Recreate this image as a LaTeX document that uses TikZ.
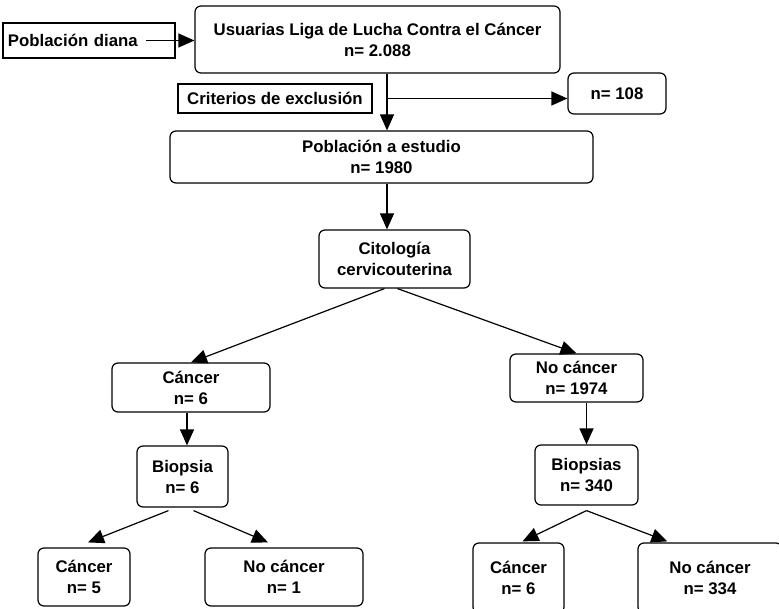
\documentclass[tikz,border=0pt]{standalone}
\usepackage{fontspec}
\setmainfont{Liberation Sans}
\usetikzlibrary{calc,arrows.meta}

\begin{document}
\begin{tikzpicture}[x=1pt,y=-1pt,
    box/.style={draw,line width=1.2pt,rounded corners=6pt,align=center,inner sep=0pt,
      font=\bfseries\fontsize{16.8}{21}\selectfont},
    flat/.style={box,rounded corners=0pt},
    link/.style={line width=1.2pt,-{Triangle[length=16pt,width=14pt]}}]
    \useasboundingbox (0,0) rectangle (779,609);
    \clip (0,0) rectangle (779,609);
    \coordinate (spine) at (387,0);
    \coordinate (dianaend) at (146,40.5);

    % top part
    \node[flat,text width=162pt,align=left,inner xsep=5pt,minimum height=35pt] (diana) at (89,40.5) {Población diana};
    \node[box,minimum width=365pt,minimum height=67pt] (usuarias) at (377.5,39.5) {Usuarias Liga de Lucha Contra el Cáncer\\n= 2.088};
    \node[flat,minimum width=194pt,minimum height=29pt] (criterios) at (275,98.5) {Criterios de exclusión};
    \node[box,minimum width=98pt,minimum height=41pt] (excl) at (617,93.5) {n= 108};
    \node[box,minimum width=423pt,minimum height=52pt] (poblacion) at (381.5,157) {Población a estudio\\n= 1980};
    \node[box,minimum width=151pt,minimum height=58pt] (citologia) at (394.5,259) {Citología\\cervicouterina};

    % branches
    \node[box,minimum width=158pt,minimum height=49pt] (cancer) at (191,387.5) {Cáncer\\n= 6};
    \node[box,minimum width=133pt,minimum height=48pt] (nocancer) at (576.5,378) {No cáncer\\n= 1974};
    \node[box,minimum width=91pt,minimum height=61pt] (biopsia) at (182.5,476.5) {Biopsia\\n= 6};
    \node[box,minimum width=103pt,minimum height=60pt] (biopsias) at (586.5,475) {Biopsias\\n= 340};
    \node[box,minimum width=92pt,minimum height=58pt] (cancerA) at (84,577) {Cáncer\\n= 5};
    \node[box,minimum width=158pt,minimum height=58pt] (nocancerA) at (284,577) {No cáncer\\n= 1};
    \node[box,minimum width=91pt,minimum height=70pt] (cancerB) at (518.5,578) {Cáncer\\n= 6};
    \node[box,minimum width=144pt,minimum height=70pt] (nocancerB) at (710,578) {No cáncer\\n= 334};

    \draw[link] (dianaend) -- (dianaend -| usuarias.west);
    \draw[link] (usuarias.south -| spine) -- (poblacion.north -| spine);
    \draw[link] (criterios.east -| spine) -- (criterios.east -| excl.west);
    \draw[link] (poblacion.south -| spine) -- (citologia.north -| spine);
    \draw[link] ($(citologia.south)+(-10,0)$) -- (cancer.north);
    \draw[link] ($(citologia.south)+(3,0)$) -- (nocancer.north);
    \draw[link] ($(cancer.south)+(-4,0)$) -- ($(biopsia.north)+(4.5,0)$);
    \draw[link] (nocancer.south -| biopsias.north) -- (biopsias.north);
    \draw[link] ($(biopsia.south)+(-14,3)$) -- ($(cancerA.north)+(4,-5)$);
    \draw[link] ($(biopsia.south)+(11,3)$) -- ($(nocancerA.north)+(-16,-5)$);
    \draw[link] ($(biopsias.south)+(0,5)$) -- ($(cancerB.north)+(4,-1)$);
    \draw[link] ($(biopsias.south)+(0,5)$) -- ($(nocancerB.north west)+(30,-1)$);
\end{tikzpicture}
\end{document}
